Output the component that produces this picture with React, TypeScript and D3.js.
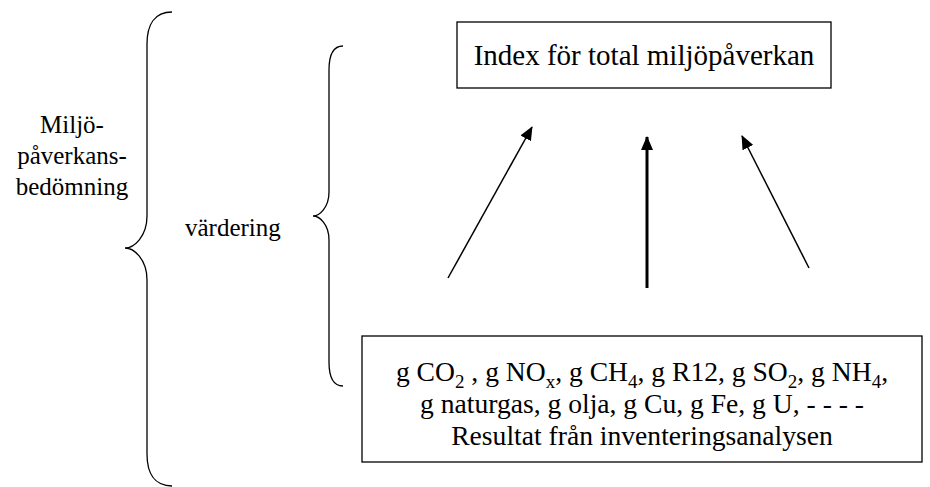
import React from "react";
import * as d3 from "d3";

const W = 930;
const H = 487;
const FONT = "'Liberation Serif', 'Times New Roman', serif";

// Text content
const outerLabelLines = ["Miljö-", "påverkans-", "bedömning"];
const innerLabel = "värdering";
const topBoxLabel = "Index för total miljöpåverkan";
const pollutants: { base: string; sub?: string }[] = [
  { base: "CO", sub: "2" },
  { base: "NO", sub: "x" },
  { base: "CH", sub: "4" },
  { base: "R12" },
  { base: "SO", sub: "2" },
  { base: "NH", sub: "4" },
];
const resources = ["naturgas", "olja", "Cu", "Fe", "U"];
const bottomCaption = "Resultat från inventeringsanalysen";

// arrows: tail -> tip
const arrows = [
  { x1: 448, y1: 278, x2: 532, y2: 127, w: 1.5 },
  { x1: 647, y1: 288, x2: 647, y2: 137, w: 3 },
  { x1: 809, y1: 268, x2: 742, y2: 136, w: 1.5 },
];

function bracePath(xEnd: number, xLine: number, xTip: number, yTop: number, yTip: number, yBot: number, r: number) {
  const p = d3.path();
  p.moveTo(xEnd, yTop);
  p.bezierCurveTo(xLine + (xEnd - xLine) * 0.3, yTop, xLine, yTop + r * 0.4, xLine, yTop + r);
  p.lineTo(xLine, yTip - r);
  p.bezierCurveTo(xLine, yTip - r * 0.35, xTip + (xLine - xTip) * 0.4, yTip, xTip, yTip);
  p.bezierCurveTo(xTip + (xLine - xTip) * 0.4, yTip, xLine, yTip + r * 0.35, xLine, yTip + r);
  p.lineTo(xLine, yBot - r);
  p.bezierCurveTo(xLine, yBot - r * 0.4, xLine + (xEnd - xLine) * 0.3, yBot, xEnd, yBot);
  return p.toString();
}

export default function App() {
  const subSize = 19;
  const subShift = 7;
  const mainSize = 27.6;
  const line1: React.ReactNode[] = [];
  let pendingUp = 0;
  pollutants.forEach((p, i) => {
    const sep = i === 0 ? "" : i === 1 ? " , " : ", ";
    line1.push(
      <tspan key={"b" + i} dy={pendingUp ? -pendingUp : undefined}>{sep + "g " + p.base}</tspan>
    );
    pendingUp = 0;
    if (p.sub) {
      line1.push(
        <tspan key={"s" + i} fontSize={subSize} dy={subShift}>{p.sub}</tspan>
      );
      pendingUp = subShift;
    }
  });
  line1.push(<tspan key="end" dy={pendingUp ? -pendingUp : undefined}>,</tspan>);
  const line2 = resources.map((r) => "g " + r).join(", ") + ", - - - -";

  const titleBox = { x: 457, y: 22, w: 374, h: 66 };
  const bottomBox = { x: 362, y: 336, w: 560, h: 126 };
  const bcx = bottomBox.x + bottomBox.w / 2;

  return (
    <div style={{ position: "fixed", left: 0, top: 0, width: W, height: H, background: "#fff" }}>
      <svg width={W} height={H} viewBox={`0 0 ${W} ${H}`} style={{ display: "block" }}>
        <defs>
          <marker id="ah" viewBox="0 0 14 12" refX="13" refY="6" markerWidth="14" markerHeight="12" markerUnits="userSpaceOnUse" orient="auto">
            <path d="M0,0 L14,6 L0,12 Z" fill="#000" />
          </marker>
        </defs>
        <rect width={W} height={H} fill="#fff" />
        {/* outer brace */}
        <path d={bracePath(172, 147, 125, 12, 248, 486, 32)} fill="none" stroke="#000" strokeWidth={1.3} />
        {/* inner brace */}
        <path d={bracePath(343, 329, 313, 46, 216, 386, 24)} fill="none" stroke="#000" strokeWidth={1.3} />
        {/* left labels */}
        <text fontFamily={FONT} fontSize={25} textAnchor="middle" fill="#000">
          {outerLabelLines.map((l, i) => (
            <tspan key={i} x={72} y={133 + i * 31}>{l}</tspan>
          ))}
        </text>
        <text x={185} y={236} fontFamily={FONT} fontSize={25} fill="#000">{innerLabel}</text>
        {/* top box */}
        <rect x={titleBox.x} y={titleBox.y} width={titleBox.w} height={titleBox.h} fill="none" stroke="#000" strokeWidth={1.3} />
        <text x={titleBox.x + titleBox.w / 2} y={65} fontFamily={FONT} fontSize={29} textAnchor="middle" fill="#000">{topBoxLabel}</text>
        {/* arrows */}
        {arrows.map((a, i) => (
          <line key={i} x1={a.x1} y1={a.y1} x2={a.x2} y2={a.y2} stroke="#000" strokeWidth={a.w} markerEnd="url(#ah)" />
        ))}
        {/* bottom box */}
        <rect x={bottomBox.x} y={bottomBox.y} width={bottomBox.w} height={bottomBox.h} fill="none" stroke="#000" strokeWidth={1.3} />
        <text x={bcx} y={381} fontFamily={FONT} fontSize={mainSize} textAnchor="middle" fill="#000">{line1}</text>
        <text x={bcx} y={413} fontFamily={FONT} fontSize={mainSize} textAnchor="middle" fill="#000">{line2}</text>
        <text x={bcx} y={445} fontFamily={FONT} fontSize={mainSize} textAnchor="middle" fill="#000">{bottomCaption}</text>
      </svg>
    </div>
  );
}
